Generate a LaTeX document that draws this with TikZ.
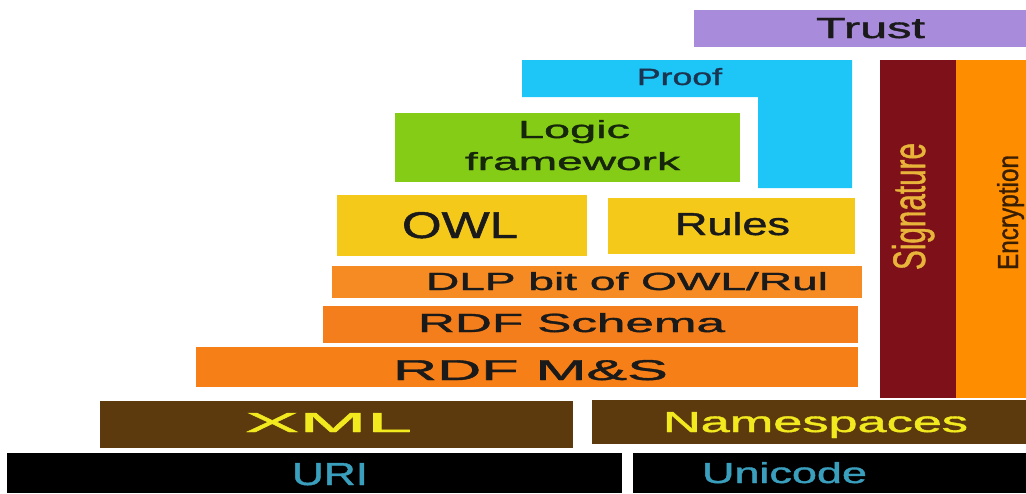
\documentclass[tikz,border=0pt]{standalone}
\usepackage{fontspec}
\setmainfont{Liberation Sans}
\newfontfamily\thk[FakeBold=1.2]{Liberation Sans}
\usepackage{graphicx}
\definecolor{ctrust}{HTML}{A98BDB}
\definecolor{cproof}{HTML}{1EC6F8}
\definecolor{clogic}{HTML}{84CC16}
\definecolor{cowl}{HTML}{F5C919}
\definecolor{cdlp}{HTML}{F68B24}
\definecolor{crdfs}{HTML}{F57E1C}
\definecolor{crdfms}{HTML}{F67F17}
\definecolor{cbrown}{HTML}{5C3A0E}
\definecolor{cyel}{HTML}{F2EA1E}
\definecolor{cteal}{HTML}{3A9EBD}
\definecolor{csig}{HTML}{7E1019}
\definecolor{csigtxt}{HTML}{E8B53A}
\definecolor{cenc}{HTML}{FF8D00}
\definecolor{cenctxt}{HTML}{3A1E00}
\definecolor{cdark}{HTML}{1A1A1A}
\definecolor{cproofTxt}{HTML}{1B3550}
\definecolor{clogicTxt}{HTML}{16260A}
\newcommand{\fitT}[3]{\resizebox{#1pt}{#2pt}{\thk #3}}
\tikzset{lbl/.style={inner sep=0pt, outer sep=0pt, anchor=base}}
\begin{document}
\begin{tikzpicture}[x=1pt,y=-1pt]
\useasboundingbox (0,0) rectangle (1026,493);
% boxes
\fill[ctrust] (694,10) rectangle (1026,47);
\fill[cproof] (522,60) -- (852,60) -- (852,188) -- (758,188) -- (758,97) -- (522,97) -- cycle;
\fill[csig] (880,60) rectangle (956,398);
\fill[cenc] (956,60) rectangle (1026,398);
\fill[clogic] (395,113) rectangle (740,182);
\fill[cowl] (337,195) rectangle (587,256);
\fill[cowl] (608,198) rectangle (855,254);
\fill[cdlp] (332,266) rectangle (862,298);
\fill[crdfs] (323,306) rectangle (858,343);
\fill[crdfms] (196,347) rectangle (858,387);
\fill[cbrown] (100,401) rectangle (573,448);
\fill[cbrown] (592,400) rectangle (1026,444);
\fill[black] (7,453) rectangle (622,493);
\fill[black] (633,453) rectangle (1026,493);
% labels
\node[lbl,text=cdark] (trust) at (870.5,38) {\fitT{109}{20}{Trust}};
\node[lbl,text=cproofTxt] (proof) at (679.5,85) {\fitT{85}{17}{Proof}};
\node[lbl,text=clogicTxt] (logic1) at (574,138) {\fitT{112}{18}{Logic}};
\node[lbl,text=clogicTxt] (logic2) at (572.5,170) {\fitT{215}{18}{framework}};
\node[lbl,text=cdark] (owl) at (460,238) {\fitT{116}{26}{OWL}};
\node[lbl,text=cdark] (rules) at (732.5,235) {\fitT{115}{23}{Rules}};
\node[lbl,text=cdark] (dlp) at (627,290) {\fitT{402}{18}{DLP bit of OWL/Rul}};
\node[lbl,text=cdark] (rdfs) at (571.5,332) {\fitT{307}{19}{RDF Schema}};
\node[lbl,text=cdark] (rdfms) at (530.5,380) {\fitT{275}{20}{RDF M\&S}};
\node[lbl,text=cyel] (xml) at (328.5,432) {\fitT{167}{19}{XML}};
\node[lbl,text=cyel] (ns) at (815.5,432) {\fitT{305}{20}{Namespaces}};
\node[lbl,text=cteal] (uri) at (330,485) {\fitT{76}{22}{URI}};
\node[lbl,text=cteal] (uni) at (784.5,483) {\fitT{165}{21}{Unicode}};
\node[lbl,text=csigtxt,rotate=90] (sig) at (925,206.5) {\fitT{127}{33}{Signature}};
\node[lbl,text=cenctxt,rotate=90] (enc) at (1018,212.5) {\fitT{115}{21}{Encryption}};
\end{tikzpicture}
\end{document}
